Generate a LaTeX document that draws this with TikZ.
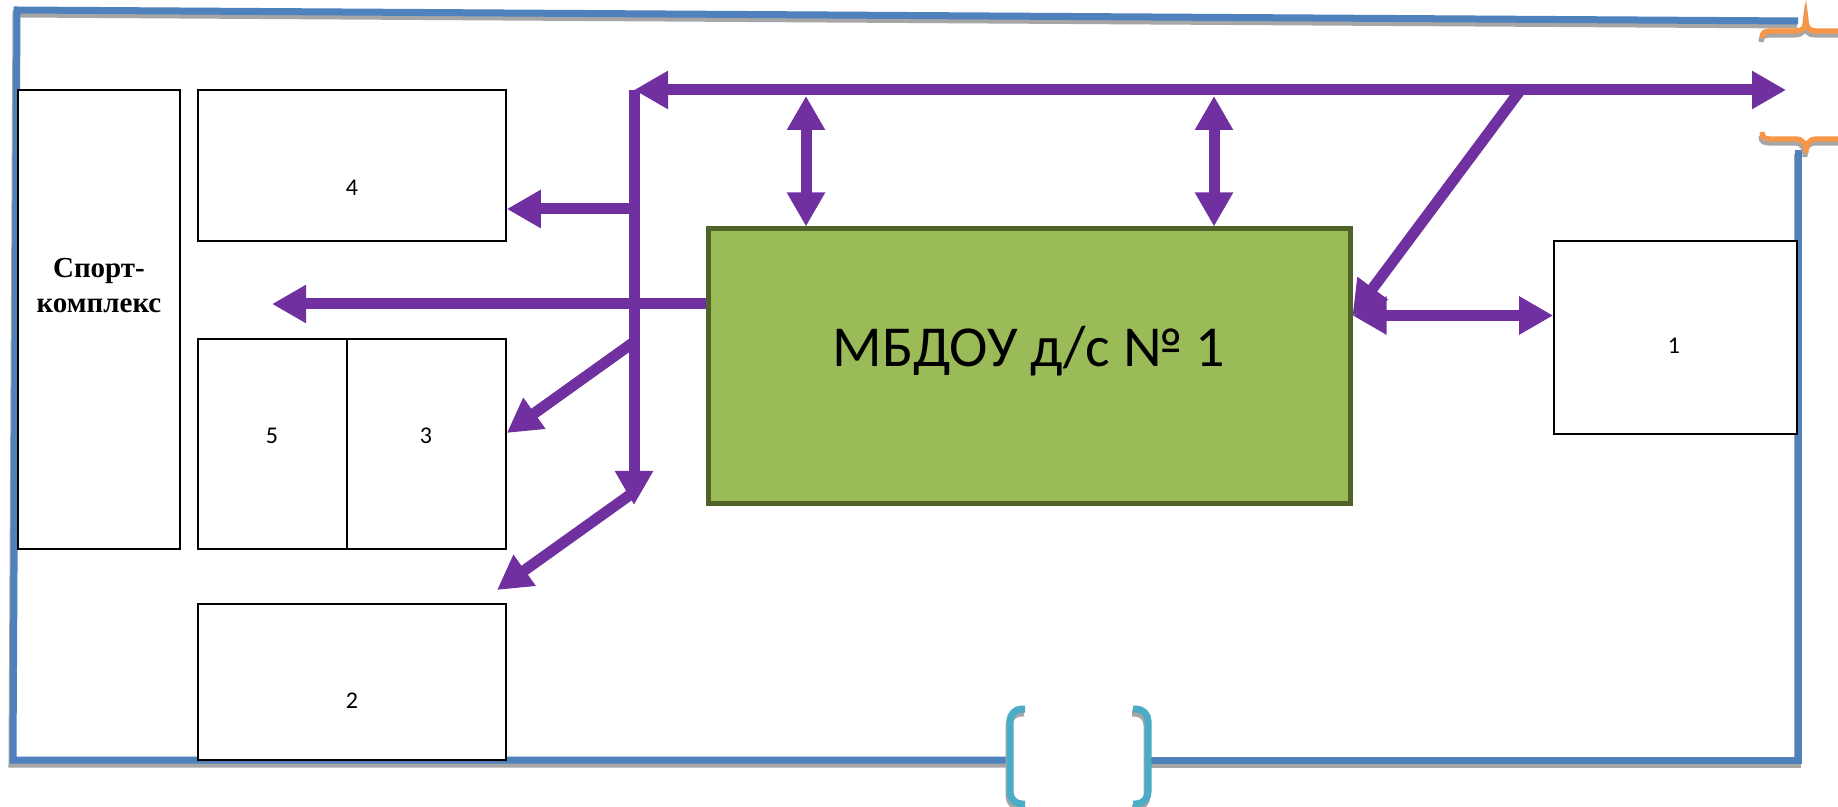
\documentclass[tikz,border=0pt]{standalone}
\usepackage{fontspec}
\setmainfont{Carlito}
\newfontfamily\serfont{Liberation Serif}
\usetikzlibrary{arrows.meta}
\definecolor{purp}{HTML}{7030A0}
\definecolor{bord}{HTML}{4F81BD}
\definecolor{orng}{HTML}{F79646}
\definecolor{cyn}{HTML}{4BACC6}
\definecolor{gfill}{HTML}{9BBB59}
\definecolor{gline}{HTML}{4F6228}
\definecolor{shad}{HTML}{A6A6A6}
\begin{document}
\begin{tikzpicture}[x=0.5pt,y=-0.5pt,
 box/.style={draw=black, line width=0.8pt, fill=white, inner sep=0pt},
 lbl/.style={font=\fontsize{12}{14}\selectfont, inner sep=0pt},
 sptxt/.style={font=\serfont\bfseries\fontsize{14.5}{17.5}\selectfont, inner sep=0pt, anchor=base},
 arr/.style={draw=purp, line width=5.5pt, -{Triangle[length=17pt,width=18pt]}},
 dbl/.style={draw=purp, line width=5.5pt, {Triangle[length=17pt,width=18pt]}-{Triangle[length=17pt,width=18pt]}},
 frame/.style={draw=bord, line width=3.5pt},
 shd/.style={draw=shad, line width=3.5pt, shift={(-1,4)}},
 brc/.style={line width=2.6pt},
]
\useasboundingbox (0,0) rectangle (1838,807);
\clip (0,0) rectangle (1838,807);
\fill[white] (0,0) rectangle (1838,807);

% frame with shadow
\draw[shd] (1798,21) -- (17,10) -- (13,760) -- (1010,760);
\draw[shd] (1148,760) -- (1798,760) -- (1798,150);
\draw[frame] (1798,21) -- (17,10) -- (13,760) -- (1010,760);
\draw[frame] (1148,760) -- (1798,760) -- (1798,150);

% orange braces
\foreach \c/\s in {shad/{(-1,4)}, orng/{(0,0)}}{
\draw[\c, brc, shift=\s] (1762,38) .. controls (1762,32) and (1765,31) .. (1772,31) -- (1796,31) .. controls (1803,31) and (1806,27) .. (1806,20) .. controls (1806,27) and (1809,31) .. (1816,31) -- (1850,31);
\draw[\c, brc, shift=\s] (1762,132) .. controls (1762,138) and (1765,139) .. (1772,139) -- (1796,139) .. controls (1803,139) and (1806,144) .. (1806,153) .. controls (1806,144) and (1809,139) .. (1816,139) -- (1850,139);
}
% cyan brackets
\foreach \c/\s in {shad/{(-1,4)}, cyn/{(0,0)}}{
\draw[\c, line width=3.5pt, rounded corners=6pt, shift=\s] (1025,709) -- (1010,709) -- (1010,804) -- (1025,804);
\draw[\c, line width=3.5pt, rounded corners=6pt, shift=\s] (1133,709) -- (1148,709) -- (1148,804) -- (1133,804);
}

% boxes
\node[box, minimum width=81pt, minimum height=229.5pt] (sport) at (99,319.5) {};
\node[sptxt] (sport1) at (99,278) {Спорт-};
\node[sptxt] (sport2) at (99,313) {комплекс};
\node[box, minimum width=154pt, minimum height=75.5pt] (b4) at (352,165.5) {};
\node[lbl] (l4) at (352,188) {4};
\node[box, minimum width=74.5pt, minimum height=105pt] (b5) at (272.5,444) {};
\node[lbl] (l5) at (272,436) {5};
\node[box, minimum width=79.5pt, minimum height=105pt] (b3) at (426.5,444) {};
\node[lbl] (l3) at (426,436) {3};
\node[box, minimum width=154pt, minimum height=78pt] (b2) at (352,682) {};
\node[lbl] (l2) at (352,701) {2};
\node[box, minimum width=121.5pt, minimum height=96.5pt] (b1) at (1675.5,337.5) {};
\node[lbl] (l1) at (1674,346) {1};
\node[draw=gline, fill=gfill, line width=2.5pt, minimum width=321pt, minimum height=137.5pt] (mb) at (1029,366.5) {};
\node[font=\fontsize{29}{34}\selectfont, inner sep=0pt] (mbl) at (1029,351) {МБДОУ д/с № 1};

% connectors
\coordinate (tl) at (634,90);
\coordinate (tr) at (1786,90);
\coordinate (tb) at (634,505);
\draw[dbl] (tl) -- (tr);
\draw[arr] (tl) -- (tb);
\coordinate (v1) at (806,96);
\draw[dbl] (v1) -- (v1 |- mb.north);
\coordinate (v2) at (1214,96);
\draw[dbl] (v2) -- (v2 |- mb.north);
\coordinate (j4) at (634,209);
\draw[arr] (j4) -- (j4 -| b4.east);
\coordinate (jm) at (272,304);
\draw[arr] (jm -| mb.west) -- (jm);
\coordinate (j3) at (634,342);
\draw[arr] (j3) -- ([yshift=5.5pt]b3.east);
\coordinate (j2) at (634,492);
\coordinate (e2) at (497,590);
\draw[arr] (j2) -- (e2);
\coordinate (d1) at (1519,92);
\coordinate (me) at ([yshift=25.5pt]mb.east);
\draw[arr] (d1) -- (me);
\draw[dbl] (me) -- (me -| b1.west);
\end{tikzpicture}
\end{document}
